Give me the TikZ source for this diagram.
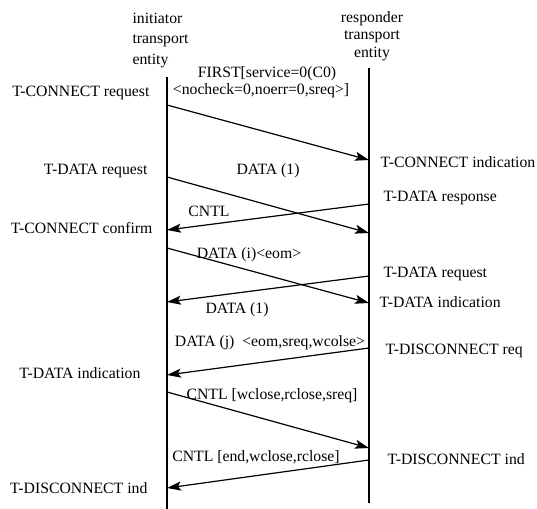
\documentclass[tikz,border=0pt]{standalone}
\usepackage{fontspec}
\setmainfont{Liberation Serif}
\usetikzlibrary{arrows.meta}
\begin{document}
\begin{tikzpicture}[x=1bp, y=-1bp, line width=1.2bp,
  every node/.style={inner sep=0pt, font=\fontsize{15.8}{19}\selectfont},
  msg/.style={-{Stealth[length=14bp, width=9bp, inset=3bp]}},
  lft/.style={anchor=east},
  rgt/.style={anchor=west}]
  \useasboundingbox (0, 0) rectangle (537, 509);

  \node [align=left, anchor=north west, font=\fontsize{15.8}{21}\selectfont] (ini) at (132, 12) {initiator\\transport\\entity};
  \node [align=center, anchor=north, font=\fontsize{15.8}{17.5}\selectfont] (resp) at (372, 11) {responder\\transport\\entity};

  \coordinate (itop) at (167, 77);
  \coordinate (ibot) at (167, 509);
  \draw (itop) to (ibot);
  \coordinate (rtop) at (369, 68);
  \coordinate (rbot) at (369, 503);
  \draw (rtop) to (rbot);

  \node [lft] (tconreq) at (150, 93) {T-CONNECT request};
  \node [] (first) at (267, 74) {FIRST[service=0(C0)};
  \node [] (opts) at (261, 91) {<nocheck=0,noerr=0,sreq>]};
  \coordinate (i1) at (167, 105);
  \coordinate (r1) at (369, 160);
  \draw [msg] (i1) to (r1);
  \node [rgt] (tconind) at (380, 162) {T-CONNECT indication};

  \node [lft] (tdatreq) at (148, 171) {T-DATA request};
  \node [] (data1) at (268, 171) {DATA (1)};
  \coordinate (i2) at (167, 177);
  \coordinate (r2) at (369, 233);
  \draw [msg] (i2) to (r2);

  \node [rgt] (tdatrsp) at (383, 198) {T-DATA response};
  \node [] (cntl) at (209, 211) {CNTL};
  \coordinate (r3) at (369, 204);
  \coordinate (i3) at (167, 230);
  \draw [msg] (r3) to (i3);
  \node [lft] (tconcnf) at (153, 228) {T-CONNECT confirm};

  \node [] (datai) at (249, 255) {DATA (i)<eom>};
  \coordinate (i4) at (167, 248);
  \coordinate (r4) at (369, 303);
  \draw [msg] (i4) to (r4);
  \node [rgt] (tdatind) at (379, 302) {T-DATA indication};

  \node [rgt] (tdatreqr) at (383, 274) {T-DATA request};
  \coordinate (r5) at (369, 276);
  \coordinate (i5) at (167, 302);
  \draw [msg] (r5) to (i5);
  \node [] (data1b) at (237, 310) {DATA (1)};

  \node [] (dataj) at (270, 343) {DATA (j)\enspace <eom,sreq,wcolse>};
  \node [rgt] (tdisreq) at (385, 351) {T-DISCONNECT req};
  \coordinate (r6) at (369, 348);
  \coordinate (i6) at (167, 375);
  \draw [msg] (r6) to (i6);
  \node [lft] (tdatindl) at (141, 373) {T-DATA indication};

  \node [] (cntlw) at (272, 396) {CNTL [wclose,rclose,sreq]};
  \coordinate (i7) at (167, 392);
  \coordinate (r7) at (369, 448);
  \draw [msg] (i7) to (r7);

  \node [] (cntle) at (256, 457) {CNTL [end,wclose,rclose]};
  \node [rgt] (tdisindr) at (387, 459) {T-DISCONNECT ind};
  \coordinate (r8) at (369, 460);
  \coordinate (i8) at (167, 488);
  \draw [msg] (r8) to (i8);
  \node [lft] (tdisind) at (148, 488) {T-DISCONNECT ind};
\end{tikzpicture}
\end{document}
